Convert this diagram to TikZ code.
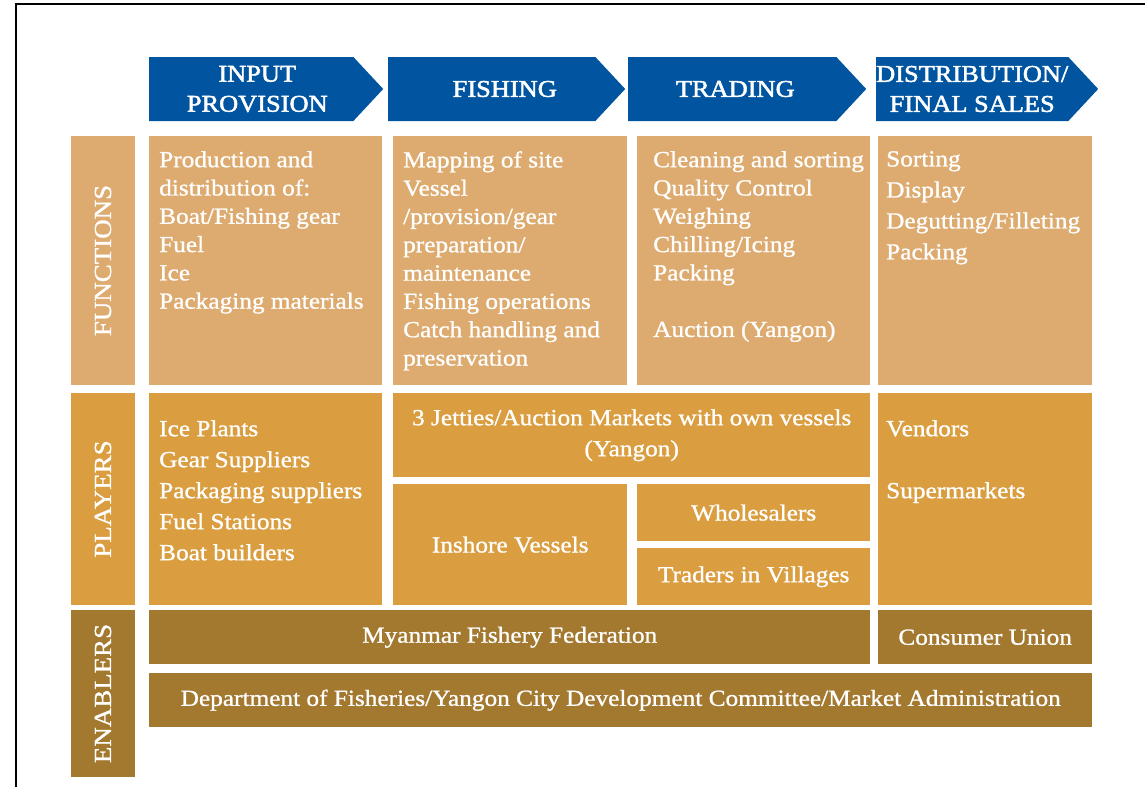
\documentclass[tikz,border=0pt]{standalone}
\usepackage{fontspec}
\setmainfont{Liberation Serif}[FakeStretch=1.1,FakeBold=1]
\newfontfamily\hdrfont{Liberation Serif}[FakeStretch=1.1,FakeBold=2]
\usetikzlibrary{shapes.symbols}

\definecolor{hdrblue}{RGB}{0,84,160}
\definecolor{fnccol}{RGB}{221,171,111}
\definecolor{plycol}{RGB}{218,158,64}
\definecolor{enbcol}{RGB}{163,120,47}

\newcommand{\bodysize}{\fontsize{23}{28.3}\selectfont}
\newcommand{\widesize}{\fontsize{23}{31}\selectfont}

\tikzset{
  hdr/.style={signal, signal to=east, signal pointer angle=94, fill=hdrblue,
    text=white, minimum width=234, minimum height=64, inner sep=0,
    anchor=west, align=center, font=\hdrfont\fontsize{24}{30}\selectfont},
  rowlab/.style={rotate=90, minimum height=64, inner sep=0, text=white,
    font=\fontsize{24.5}{28}\selectfont},
  cell/.style={anchor=north west, inner sep=0, text=white, align=center,
    font=\widesize},
  txt/.style={anchor=north west, inner sep=0, text=white, align=left}
}

\begin{document}
\begin{tikzpicture}[x=1pt,y=-1pt]
  \useasboundingbox (0,0) rectangle (1145,787);
  \draw[line width=1.3] (16,787) -- (16,4) -- (1145,4);

  % stage headers
  \node[hdr] (h1) at (149,89) {\hspace*{12pt}INPUT\\\hspace*{12pt}PROVISION};
  \node[hdr, minimum width=237] (h2) at (388,89) {\hspace*{26pt}FISHING};
  \node[hdr, minimum width=238] (h3) at (628,89) {\hspace*{6pt}TRADING};
  \node[hdr, minimum width=221] (h4) at (876,89) {DISTRIBUTION/\\FINAL SALES};

  % row labels
  \node[rowlab, fill=fnccol, minimum width=249] (fnlab) at (103,260.5) {FUNCTIONS};
  \node[rowlab, fill=plycol, minimum width=212] (plylab) at (103,499) {PLAYERS};
  \node[rowlab, fill=enbcol, minimum width=167] (enblab) at (103,693.5) {ENABLERS};

  % functions
  \begin{scope}[every node/.append style={fill=fnccol, minimum height=249}]
    \node[cell, minimum width=233] (fn1) at (149,136) {};
    \node[cell, minimum width=234] (fn2) at (393,136) {};
    \node[cell, minimum width=233] (fn3) at (637,136) {};
    \node[cell, minimum width=214] (fn4) at (878,136) {};
  \end{scope}
  \begin{scope}[every node/.append style={font=\bodysize}]
    \node[txt] (fn1txt) at ([xshift=10,yshift=-15]fn1.north west)
      {Production and\\distribution of:\\Boat/Fishing gear\\Fuel\\Ice\\Packaging materials};
    \node[txt] (fn2txt) at ([xshift=10,yshift=-15]fn2.north west)
      {Mapping of site\\Vessel\\/provision/gear\\preparation/\\maintenance\\Fishing operations\\Catch handling and\\preservation};
    \node[txt] (fn3txt) at ([xshift=16,yshift=-15]fn3.north west)
      {Cleaning and sorting\\Quality Control\\Weighing\\Chilling/Icing\\Packing\\[28.3pt]Auction (Yangon)};
    \node[txt, font=\widesize] (fn4txt) at ([xshift=8,yshift=-15]fn4.north west)
      {Sorting\\Display\\Degutting/Filleting\\Packing};
  \end{scope}

  % players
  \begin{scope}[every node/.append style={fill=plycol}]
    \node[cell, minimum width=233, minimum height=212] (pl1) at (149,393) {};
    \node[cell, minimum width=477, minimum height=84] (jetty) at (393,393)
      {3 Jetties/Auction Markets with own vessels\\(Yangon)};
    \node[cell, minimum width=234, minimum height=121] (inshore) at (393,484) {Inshore Vessels};
    \node[cell, minimum width=233, minimum height=57] (whole) at (637,484) {Wholesalers};
    \node[cell, minimum width=233, minimum height=57] (village) at (637,548) {Traders in Villages};
    \node[cell, minimum width=214, minimum height=212] (pl4) at (878,393) {};
  \end{scope}
  \node[txt, font=\widesize] (pl1txt) at ([xshift=10,yshift=-27]pl1.north west)
    {Ice Plants\\Gear Suppliers\\Packaging suppliers\\Fuel Stations\\Boat builders};
  \node[txt, font=\widesize] (pl4txt) at ([xshift=8,yshift=-27]pl4.north west)
    {Vendors\\[31pt]Supermarkets};

  % enablers
  \begin{scope}[every node/.append style={fill=enbcol, minimum height=54}]
    \node[cell, minimum width=721] (mff) at (149,610) {Myanmar Fishery Federation};
    \node[cell, minimum width=214] (cu) at (878,610) {Consumer Union};
    \node[cell, minimum width=943] (dof) at (149,673)
      {Department of Fisheries/Yangon City Development Committee/Market Administration};
  \end{scope}

\end{tikzpicture}
\end{document}
